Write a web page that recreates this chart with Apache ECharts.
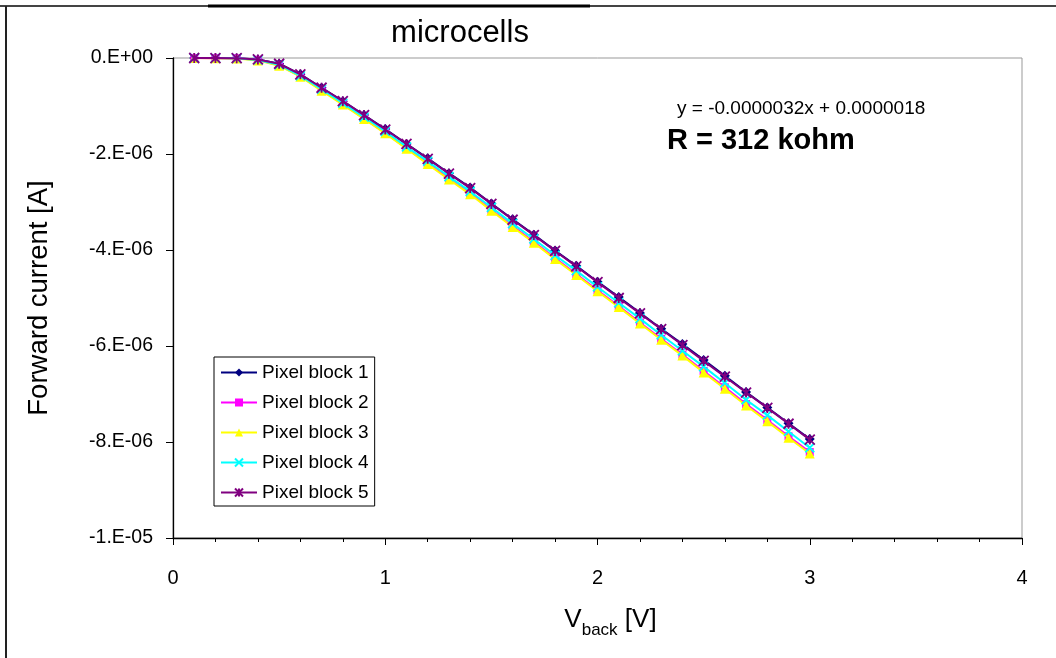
<!DOCTYPE html>
<html>
<head>
<meta charset="utf-8">
<title>microcells</title>
<script src="https://cdn.jsdelivr.net/npm/echarts@6/dist/echarts.min.js"></script>
<style>
  html, body { margin: 0; padding: 0; background: #fff; }
  #chart { width: 1056px; height: 658px; }
</style>
</head>
<body>
<div id="chart"></div>
<script>
// Back voltage [V]
const vBack = [0.1, 0.2, 0.3, 0.4, 0.5, 0.6, 0.7, 0.8, 0.9, 1.0,
               1.1, 1.2, 1.3, 1.4, 1.5, 1.6, 1.7, 1.8, 1.9, 2.0,
               2.1, 2.2, 2.3, 2.4, 2.5, 2.6, 2.7, 2.8, 2.9, 3.0];

// Forward current per pixel block, in microamps
const block1 = [0.000, -0.002, -0.005, -0.03, -0.12, -0.34, -0.62, -0.90, -1.19, -1.48,
                -1.79, -2.09, -2.40, -2.70, -3.03, -3.36, -3.68, -4.01, -4.33, -4.66,
                -4.98, -5.31, -5.64, -5.96, -6.29, -6.62, -6.96, -7.28, -7.61, -7.94];
const block2 = [0.000, -0.003, -0.007, -0.04, -0.15, -0.38, -0.67, -0.96, -1.26, -1.56,
                -1.88, -2.19, -2.51, -2.82, -3.16, -3.50, -3.83, -4.17, -4.50, -4.84,
                -5.17, -5.51, -5.85, -6.18, -6.52, -6.86, -7.21, -7.54, -7.88, -8.21];
const block3 = [0.000, -0.003, -0.008, -0.05, -0.16, -0.39, -0.68, -0.97, -1.27, -1.57,
                -1.89, -2.21, -2.53, -2.84, -3.18, -3.52, -3.85, -4.19, -4.52, -4.86,
                -5.19, -5.53, -5.87, -6.20, -6.55, -6.89, -7.24, -7.57, -7.91, -8.24];
const block4 = [0.000, -0.002, -0.006, -0.04, -0.14, -0.37, -0.65, -0.94, -1.23, -1.53,
                -1.85, -2.15, -2.47, -2.78, -3.11, -3.45, -3.77, -4.11, -4.43, -4.77,
                -5.10, -5.43, -5.77, -6.10, -6.43, -6.77, -7.12, -7.44, -7.78, -8.12];
const block5 = [0.000, -0.001, -0.004, -0.03, -0.12, -0.34, -0.62, -0.90, -1.19, -1.49,
                -1.79, -2.10, -2.41, -2.71, -3.04, -3.37, -3.69, -4.02, -4.34, -4.67,
                -5.00, -5.32, -5.65, -5.98, -6.31, -6.64, -6.97, -7.29, -7.62, -7.95];

const seriesNames = ['Pixel block 1', 'Pixel block 2', 'Pixel block 3', 'Pixel block 4', 'Pixel block 5'];
const seriesColors = ['#000080', '#FF00FF', '#FFFF00', '#00FFFF', '#800080'];

// Axis ranges
const xMin = 0, xMax = 4, xStep = 1;
const yMin = -1e-5, yMax = 0, yStep = 2e-6;

const FONT = 'Liberation Sans, Arial, sans-serif';

// Excel-like marker shapes
const crossPath = 'path://M0,0L10,10M10,0L0,10';
const starPath = 'path://M5,0L5,10M0,0L10,10M10,0L0,10';
const symbols = ['diamond', 'rect', 'triangle', crossPath, starPath];
const symbolSizes = [10, 8, 10, 9, 10];

// "0.E+00" style tick labels
function sciLabel(v) {
  if (Math.abs(v) < 1e-12) return '0.E+00';
  const s = v.toExponential(0);
  const m = s.match(/^(-?\d)e([+-])(\d+)$/);
  if (!m) return s;
  return m[1] + '.E' + m[2] + m[3].padStart(2, '0');
}

const blocks = [block1, block2, block3, block4, block5];

const series = blocks.map((vals, i) => ({
  name: seriesNames[i],
  type: 'line',
  data: vBack.map((x, k) => [x, vals[k] * 1e-6]),
  symbol: symbols[i],
  symbolSize: symbolSizes[i],
  showSymbol: true,
  lineStyle: { color: seriesColors[i], width: 2 },
  itemStyle: {
    color: seriesColors[i],
    borderColor: seriesColors[i],
    borderWidth: i >= 3 ? 1.8 : 0
  },
  emphasis: { disabled: true },
  z: 2 + i
}));

const chart = echarts.init(document.getElementById('chart'), null, { renderer: 'canvas' });

chart.setOption({
  animation: false,
  backgroundColor: '#ffffff',
  grid: {
    left: 173, right: 34, top: 58, bottom: 120,
    show: true, borderColor: '#999999', borderWidth: 1, backgroundColor: 'transparent'
  },
  xAxis: {
    type: 'value',
    min: xMin, max: xMax, interval: xStep,
    name: '{v|V}{sub|back}{v| [V]}',
    nameLocation: 'middle',
    nameGap: 69,
    nameTextStyle: {
      padding: [0, 0, 0, 26],
      rich: {
        v: { fontFamily: FONT, fontSize: 26, color: '#000', verticalAlign: 'bottom' },
        sub: { fontFamily: FONT, fontSize: 17, color: '#000', verticalAlign: 'bottom', padding: [0, 0, -6, 0] }
      }
    },
    axisLine: { show: true, onZero: false, lineStyle: { color: '#000', width: 1.3 } },
    axisTick: { show: true, inside: false, length: 7, lineStyle: { color: '#000' } },
    minorTick: { show: true, splitNumber: 5, length: 4, lineStyle: { color: '#000' } },
    splitLine: { show: false },
    axisLabel: { margin: 30, fontFamily: FONT, fontSize: 20, color: '#000' }
  },
  yAxis: {
    type: 'value',
    min: yMin, max: yMax, interval: yStep,
    name: 'Forward current [A]',
    nameLocation: 'middle',
    nameGap: 120,
    nameTextStyle: { fontFamily: FONT, fontSize: 27.5, color: '#000' },
    axisLine: { show: true, onZero: false, lineStyle: { color: '#000', width: 1.3 } },
    axisTick: { show: true, inside: false, length: 7, lineStyle: { color: '#000' } },
    splitLine: { show: false },
    axisLabel: { margin: 20, fontFamily: FONT, fontSize: 19.5, color: '#000', formatter: sciLabel }
  },
  legend: {
    data: seriesNames,
    orient: 'vertical',
    left: 214, top: 357,
    padding: [6, 6, 4, 6],
    itemWidth: 36, itemHeight: 10, itemGap: 11,
    backgroundColor: '#ffffff',
    borderColor: '#000', borderWidth: 1, borderRadius: 0,
    textStyle: { fontFamily: FONT, fontSize: 19, color: '#000', lineHeight: 19 },
    selectedMode: false
  },
  graphic: [
    // outer frame edges
    { type: 'line', shape: { x1: 0, y1: 6, x2: 1056, y2: 6 }, style: { stroke: '#444', lineWidth: 2 }, z: 10 },
    { type: 'line', shape: { x1: 208, y1: 6, x2: 590, y2: 6 }, style: { stroke: '#000', lineWidth: 3 }, z: 11 },
    { type: 'line', shape: { x1: 6, y1: 6, x2: 6, y2: 658 }, style: { stroke: '#222', lineWidth: 2 }, z: 10 },
    // title
    { type: 'text', x: 460, y: 33,
      style: { text: 'microcells', fontFamily: FONT, fontSize: 31, fill: '#000', align: 'center', verticalAlign: 'middle' } },
    // fit annotation
    { type: 'text', x: 677, y: 109,
      style: { text: 'y = -0.0000032x + 0.0000018', fontFamily: FONT, fontSize: 19, fill: '#000', align: 'left', verticalAlign: 'middle' } },
    { type: 'text', x: 667, y: 141,
      style: { text: 'R = 312 kohm', fontFamily: FONT, fontSize: 29, fontWeight: 'bold', fill: '#000', align: 'left', verticalAlign: 'middle' } }
  ],
  series: series
});
</script>
</body>
</html>
